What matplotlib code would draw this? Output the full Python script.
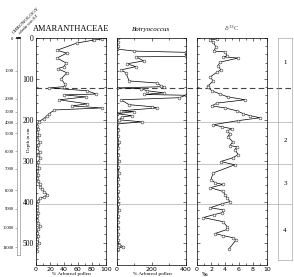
import matplotlib
matplotlib.use("Agg")
import matplotlib.pyplot as plt
from matplotlib.ticker import MultipleLocator

# ---- data ----
amar_depth = [2, 5, 12, 30, 37, 49, 61, 70, 75, 85, 100, 112, 119, 122, 129, 137, 139, 144,
              151, 161, 166, 171, 176, 185, 190, 197, 205, 214, 222, 230, 238, 246, 254, 262,
              270, 278, 286, 294, 302, 310, 318, 326, 334, 342, 350, 358, 364, 370, 376, 383,
              388, 392, 398, 405, 412, 420, 428, 436, 444, 452, 460, 468, 476, 484, 492, 500,
              510, 520]
amar_pct = [94, 83, 59, 30, 44, 30, 43, 40, 31, 44, 36, 41, 40, 19, 73, 86, 40, 71,
            33, 73, 51, 94, 26, 19, 16, 11, 4, 1, 3, 2, 4, 2, 5, 3,
            2, 5, 3, 6, 3, 2, 4, 2, 3, 2, 3, 5, 6, 8, 12, 16,
            12, 5, 3, 2, 1, 2, 3, 2, 1, 3, 5, 3, 2, 3, 2, 4,
            2, 1]

botr_depth = [0, 10, 20, 27, 32, 35, 45, 46, 56, 63, 70, 78, 85, 105, 110, 117, 119, 122,
              124, 129, 134, 138, 140, 146, 151, 163, 168, 171, 178, 180, 185, 190, 193, 200,
              205, 210, 225, 240, 255, 270, 285, 300, 315, 330, 345, 360, 375, 390, 405, 420,
              435, 450, 465, 480, 495, 505, 510, 515]
botr_val = [3, 5, 4, 0, 100, 400, 400, 110, 155, 58, 110, 23, 52, 70, 232, 255, 272, 0,
            139, 174, 272, 156, 400, 360, 23, 70, 203, 232, 23, 98, 0, 87, 29, 12,
            145, 0, 8, 4, 10, 6, 3, 9, 5, 12, 4, 7, 3, 8, 5, 10,
            4, 6, 3, 7, 5, 10, 35, 5]

d13c_depth = [2, 5, 10, 22, 32, 34, 44, 46, 49, 59, 68, 78, 83, 95, 105, 117, 120, 129,
              137, 144, 151, 159, 166, 171, 178, 185, 190, 195, 202, 212, 217, 222, 227, 234,
              241, 254, 263, 266, 273, 285, 293, 302, 310, 330, 346, 354, 358, 366, 375, 383,
              390, 400, 405, 415, 420, 427, 432, 439, 449, 461, 468, 478, 483, 488, 493, 515]
d13c_val = [2.9, 1.9, 2.3, 2.7, 2.4, 4.0, 4.3, 3.7, 5.9, 3.3, 3.0, 3.4, 2.9, 1.9, 2.3, 1.6, 1.6, 2.1,
            3.3, 4.4, 6.9, 2.9, 2.1, 4.0, 5.7, 6.6, 7.6, 9.0, 5.9, 2.3, 3.6, 5.0, 4.3, 4.7,
            4.4, 5.1, 4.7, 5.7, 5.4, 5.9, 5.1, 3.4, 5.4, 2.3, 2.0, 2.6, 3.7, 1.9, 3.7, 4.0,
            4.3, 4.7, 3.6, 1.9, 3.7, 3.6, 2.4, 0.9, 3.7, 4.3, 4.3, 2.6, 3.7, 5.1, 5.6, 4.6]

chrono_years = [0, 1000, 2000, 3000, 4000, 5000, 6000, 7000, 8000, 9000, 10000, 11000]
chrono_depth = [0, 80, 148, 180, 207, 232, 276, 319, 371, 416, 463, 510]

zone_names = ["1", "2", "3", "4"]
zone_mid = [60, 250, 355, 470]
dashed_depth = 122
zone_bounds = [205, 307, 405]

W, H = 294, 277
fig = plt.figure(figsize=(W / 100, H / 100), dpi=100)
fig.patch.set_facecolor("white")


def box(x0, x1, y0, y1):
    return [x0 / W, 1 - y1 / H, (x1 - x0) / W, (y1 - y0) / H]


serif = "Liberation Serif"
DMAX = 555

# overlay for the zone lines across all panels
ov = fig.add_axes(box(36, 292, 38, 265))
ov.set_ylim(DMAX, 0)
ov.axis("off")
ov.axhline(dashed_depth, color="#444444", lw=0.8, ls=(0, (5, 3)))
for z in zone_bounds:
    ov.axhline(z, color="#bbbbbb", lw=0.6)

panels = [
    (36, 106, amar_pct, amar_depth, (0, 100), 20, 10, "AMARANTHACEAE", {}),
    (117, 186, botr_val, botr_depth, (0, 400), 200, 100, "Botryococcus", {"style": "italic"}),
    (197, 267, d13c_val, d13c_depth, (0, 10), 2, 1, r"$\delta^{13}$C", {}),
]
axes = []
for i, (x0, x1, xs, ds, xl, maj, mnr, title, tkw) in enumerate(panels):
    ax = fig.add_axes(box(x0, x1, 38, 265))
    ax.patch.set_alpha(0)
    ax.plot(xs, ds, color="black", lw=0.5, marker="o", ms=2, mfc="white",
            mec="#333333", mew=0.4, clip_on=True)
    ax.set_xlim(*xl)
    ax.set_ylim(DMAX, 0)
    ax.xaxis.set_major_locator(MultipleLocator(maj))
    ax.xaxis.set_minor_locator(MultipleLocator(mnr))
    ax.yaxis.set_major_locator(MultipleLocator(100))
    ax.yaxis.set_minor_locator(MultipleLocator(20))
    ax.tick_params(which="both", direction="in", top=True, right=True,
                   width=0.4, labelsize=4.5, pad=1.5)
    ax.tick_params(which="major", length=2)
    ax.tick_params(which="minor", length=1.2)
    for s in ax.spines.values():
        s.set_linewidth(0.5)
    if i == 0:
        for lab in ax.get_yticklabels():
            lab.set_fontfamily(serif)
            lab.set_fontsize(5.5)
    else:
        ax.set_yticklabels([])
    if i == 2:
        ax.set_title(title, fontsize=4.5, pad=5, fontfamily=serif, color="#555555")
    else:
        ax.set_title(title, fontsize=6 if i == 0 else 5, pad=5, fontfamily=serif, **tkw)
    axes.append(ax)

fig.text(71 / W, 1 - 274 / H, "% Arboreal pollen", fontsize=3.8, fontfamily=serif,
         ha="center", va="center")
fig.text(152 / W, 1 - 274 / H, "% Arboreal pollen", fontsize=3.8, fontfamily=serif,
         ha="center", va="center")
fig.text(205 / W, 1 - 274 / H, "\u2030", fontsize=4, fontfamily=serif,
         ha="center", va="center")
fig.text(29 / W, 1 - 140 / H, "Depth in cm", fontsize=3.5, fontfamily=serif,
         rotation=90, ha="center", va="center")

# zone box
zb = fig.add_axes(box(278, 292, 38, 260))
zb.set_ylim(541, 0)
zb.set_xlim(0, 1)
zb.set_xticks([])
zb.set_yticks([])
zb.patch.set_alpha(0)
for s in zb.spines.values():
    s.set_color("#aaaaaa")
    s.set_linewidth(0.5)
for name, m in zip(zone_names, zone_mid):
    zb.text(0.5, m, name, fontsize=5, fontfamily=serif, ha="center", va="center")

# chronology bar
cb = fig.add_axes(box(17, 20, 38, 255))
cb.set_ylim(529, 0)
cb.set_xticks([])
cb.set_yticks(chrono_depth)
cb.set_yticklabels([str(y) for y in chrono_years], fontsize=3.3, fontfamily=serif)
cb.tick_params(axis="y", length=1.5, width=0.4, pad=1, color="#777777")
cb.patch.set_alpha(0)
for s in cb.spines.values():
    s.set_color("#999999")
    s.set_linewidth(0.5)
cb.spines["top"].set_color("black")
cb.spines["top"].set_linewidth(1.2)

fig.text(12 / W, 1 - 35 / H, "CHRONOLOGY", fontsize=3.8, fontfamily=serif,
         rotation=45, ha="left", va="bottom")
fig.text(18 / W, 1 - 35 / H, "calendar years B.P.", fontsize=2.4, fontfamily=serif,
         rotation=45, ha="left", va="bottom")

fig.savefig("out.png", dpi=100)
